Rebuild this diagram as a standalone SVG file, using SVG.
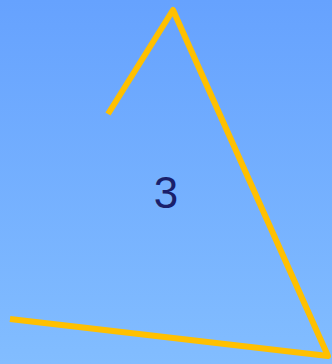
<svg xmlns="http://www.w3.org/2000/svg" width="332" height="364" viewBox="0 0 332 364">
<defs>
<linearGradient id="bg" x1="0" y1="0" x2="0" y2="1">
<stop offset="0" stop-color="#66a2fe"/>
<stop offset="1" stop-color="#82bdff"/>
</linearGradient>
<style>
.line{fill:none;stroke:#ffc000;stroke-width:6;stroke-linejoin:round;stroke-linecap:butt}
.lbl{font-family:"Liberation Sans",Arial,sans-serif;font-size:44px;fill:#1a1f6b;text-anchor:middle}
</style>
</defs>
<rect width="332" height="364" fill="url(#bg)"/>
<g id="connectors">
<polyline class="line" points="108,114 173,10 328,356 10,319"/>
</g>
<g id="label">
<text class="lbl" x="166" y="208">3</text>
</g>
</svg>
